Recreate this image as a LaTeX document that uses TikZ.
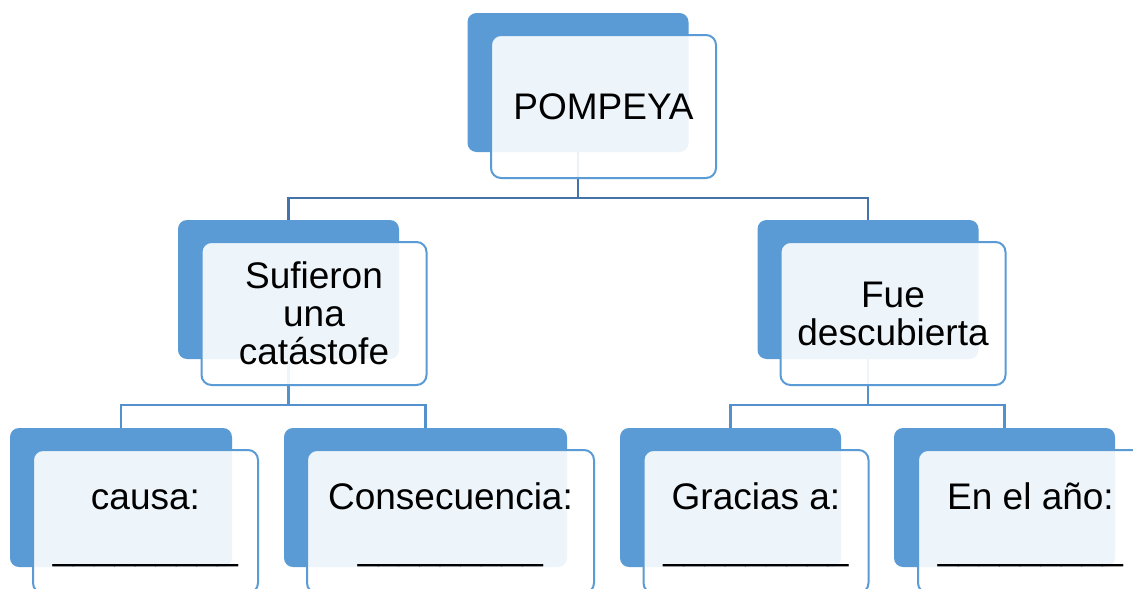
\documentclass[tikz,border=0pt]{standalone}
\usepackage{fontspec}
\setmainfont{Liberation Sans}
\usepackage{tikz}
\usepackage{xcolor}
\usetikzlibrary{calc}
\usetikzlibrary{positioning}

\definecolor{boxblue}{RGB}{91,155,213}
\definecolor{lineup}{RGB}{68,114,170}
\definecolor{linedown}{RGB}{84,144,204}

\newcommand{\fillin}{\_\_\_\_\_\_\_\_\_}
\newcommand{\firstline}{\rule{0pt}{34pt}}

\tikzset{
    backbox/.style = {fill=boxblue, draw=none, rounded corners=9pt, minimum width=221pt, minimum height=139pt, inner sep=0pt},
    frontbox/.style = {fill=white, fill opacity=0.9, text opacity=1, draw=boxblue, line width=2pt, rounded corners=10pt,
                       minimum width=225pt, minimum height=143pt, inner sep=0pt, align=center,
                       font={\fontsize{37}{38}\selectfont}},
    blankbox/.style = {frontbox, font={\fontsize{37}{50}\selectfont}},
    linkup/.style = {draw=lineup, line width=2.2pt},
    linkdown/.style = {draw=linedown, line width=2.2pt}
}

\begin{document}
\begin{tikzpicture}[x=1pt, y=-1pt]
\clip (0,0) rectangle (1133,589);
\fill[white] (0,0) rectangle (1133,589);

    % back boxes
    \node[backbox] (pompb) at (578, 82.5) {};
    \node[backbox] (sufb) at (288.5, 289.5) {};
    \node[backbox] (fueb) at (868, 289.5) {};
    \node[backbox, minimum width=222pt] (causab) at (121, 497.5) {};
    \node[backbox, minimum width=283pt] (consb) at (425.5, 497.5) {};
    \node[backbox] (graciab) at (730.5, 497.5) {};
    \node[backbox] (anob) at (1004.5, 497.5) {};

    % connectors
    \draw[linkup] (pompb.south) -- ++(0,46) -| (sufb.north);
    \draw[linkup] (pompb.south) -- ++(0,46) -| (fueb.north);
    \draw[linkdown] (sufb.south) -- ++(0,46) -| (causab.north);
    \draw[linkdown] (sufb.south) -- ++(0,46) -| (consb.north);
    \draw[linkdown] (fueb.south) -- ++(0,46) -| (graciab.north);
    \draw[linkdown] (fueb.south) -- ++(0,46) -| (anob.north);

    % front boxes
    \node[frontbox] (pomp) at (603.5, 106.5) {POMPEYA};
    \node[frontbox] (suf) at (314, 313.5) {Sufieron\\una\\catástofe};
    \node[frontbox] (fue) at (893, 313.5) {Fue\\descubierta};
    \node[blankbox] (causa) at (145.5, 521.5) {\firstline causa:\\\fillin};
    \node[blankbox, minimum width=287pt] (cons) at (450.5, 521.5) {\firstline Consecuencia:\\\fillin};
    \node[blankbox] (gracia) at (756, 521.5) {\firstline Gracias a:\\\fillin};
    \node[blankbox] (ano) at (1030.5, 521.5) {\firstline En el año:\\\fillin};

\end{tikzpicture}
\end{document}
